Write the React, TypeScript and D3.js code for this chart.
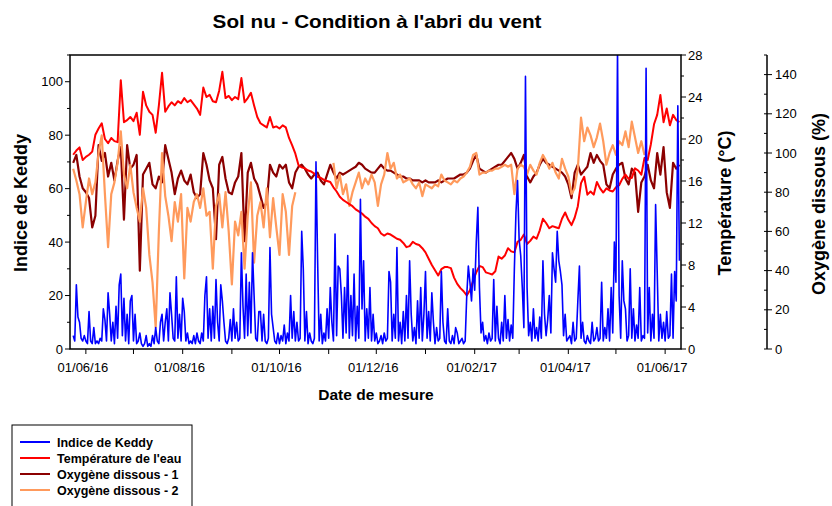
import React from "react";
import * as d3 from "d3";

// Two-day sampled series starting 24/05/2016
const twoDayStart = new Date(2016, 4, 24);
const temperature: number[] = [
  18.5, 18.9, 19.2, 18.0, 18.3, 18.5, 18.8, 20.4, 21.0, 21.5,
  20.0, 19.6, 20.1, 19.8, 19.7, 25.6, 21.6, 21.8, 22.1, 21.7,
  22.5, 20.4, 24.5, 23.2, 22.6, 22.3, 20.6, 23.2, 26.3, 22.6,
  23.1, 23.5, 23.2, 23.6, 23.4, 23.9, 23.5, 23.7, 23.3, 22.9,
  22.3, 24.9, 24.0, 24.2, 23.6, 23.5, 24.6, 26.4, 23.9, 24.1,
  23.7, 24.0, 23.8, 25.8, 23.5, 23.9, 24.4, 23.2, 22.1, 21.5,
  21.3, 21.1, 22.1, 21.1, 21.2, 21.0, 21.3, 21.1, 20.1, 19.4,
  18.6, 17.5, 17.3, 17.2, 17.0, 16.9, 16.7, 16.4, 16.3, 16.1,
  16.0, 15.9, 15.4, 15.0, 14.5, 14.2, 14.0, 13.8, 13.6, 13.3,
  13.1, 12.9, 12.6, 12.4, 12.0, 11.7, 11.5, 11.0, 10.8, 11.0,
  10.9, 10.7, 10.5, 10.4, 10.1, 9.7, 9.8, 10.2, 10.0, 9.9,
  9.6, 9.2, 8.6, 8.0, 7.5, 7.0, 7.6, 7.8, 7.8, 7.7,
  6.8, 6.2, 5.8, 5.5, 5.1, 5.6, 6.5, 7.3, 7.9, 7.8,
  7.3, 7.2, 7.1, 7.4, 8.8, 8.6, 8.9, 9.6, 9.3, 9.2,
  10.2, 10.4, 10.9, 10.0, 10.3, 10.7, 10.5, 11.3, 12.4, 12.0,
  11.5, 11.7, 11.6, 11.5, 12.4, 13.0, 12.3, 11.8, 12.5, 13.6,
  15.8, 16.4, 14.7, 15.0, 14.7, 15.9, 15.3, 14.9, 15.3, 15.1,
  15.0, 15.4, 15.6, 16.2, 16.6, 16.2, 16.3, 17.2, 17.0, 16.6,
  18.2, 18.0, 19.5, 21.4, 22.3, 24.2, 21.6, 22.9, 21.3, 22.3,
  21.8, 21.6,
];

const oxygen1: number[] = [
  95, 99, 88, 82, 80, 77, 62, 68, 104, 96,
  100, 88, 95, 86, 96, 103, 66, 104, 92, 94,
  99, 40, 89, 92, 95, 84, 82, 88, 85, 104,
  97, 90, 79, 87, 91, 86, 84, 89, 80, 77,
  79, 100, 94, 86, 82, 56, 94, 98, 87, 80,
  79, 85, 88, 100, 55, 90, 95, 87, 84, 78,
  72, 75, 94, 90, 88, 94, 92, 94, 85, 82,
  90, 93, 94, 92, 89, 87, 89, 90, 86, 84,
  89, 94, 90, 87, 90, 89, 90, 91, 92, 93,
  95, 94, 92, 91, 90, 90, 92, 94, 92, 91,
  91, 90, 89, 88, 88, 87, 87, 86, 86, 86,
  85, 86, 85, 85, 85, 86, 85, 86, 87, 87,
  87, 88, 89, 89, 90, 92, 96, 99, 92, 91,
  90, 91, 92, 93, 94, 94, 96, 98, 100, 97,
  92, 95, 99, 88, 85, 88, 90, 94, 97, 95,
  94, 93, 92, 91, 90, 88, 84, 77, 90, 94,
  89, 91, 93, 100, 95, 99, 96, 94, 84, 82,
  89, 92, 94, 95, 87, 84, 92, 90, 70, 85,
  88, 94, 86, 82, 100, 89, 103, 80, 72, 95,
  92, 94,
];

const oxygen2: (number | null)[] = [
  92, 86, 79, 62, 75, 87, 79, 85, 100, 109,
  79, 52, 79, 85, 95, 111, 89, 82, 94, 80,
  72, 65, 82, 72, 48, 34, 11, 60, 100, 78,
  68, 55, 75, 65, 79, 36, 72, 65, 75, 79,
  72, 82, 68, 70, 41, 73, 79, 62, 80, 60,
  33, 65, 58, 70, 41, 68, 85, 44, 68, 75,
  62, 82, 57, 77, 62, 48, 79, 70, 48, 73,
  80, null, null, null, null, null, null, null, null, null,
  null, null, 95, 82, 89, 79, 84, 73, 80, 85,
  90, 82, 87, 84, 89, 85, 73, 84, 89, 100,
  92, 95, 87, 89, 85, 86, 87, 84, 82, 85,
  78, 84, 83, 82, 84, 83, 89, 86, 85, 84,
  86, 85, 87, 88, 90, 93, 99, 100, 89, 90,
  90, 91, 91, 92, 92, 93, 94, 93, 94, 79,
  92, 94, 93, 89, 94, 91, 89, 95, 99, 96,
  92, 95, 90, 87, 97, 92, 88, 79, 82, 92,
  118, 106, 113, 109, 103, 108, 115, 106, 94, 100,
  104, 99, 106, 104, 111, 103, 116, 108, 100, 106,
  99, null, null, null, null, null, null, null, null, null,
  null, null,
];

// Daily series starting 24/05/2016
const dailyStart = new Date(2016, 4, 24);
const keddy: number[] = [
  5, 3, 24, 12, 10, 4, 3, 5, 3, 2,
  14, 3, 2, 8, 2, 3, 2, 4, 3, 15,
  11, 3, 21, 13, 3, 10, 2, 16, 4, 24,
  28, 5, 19, 3, 13, 2, 18, 20, 3, 13,
  2, 3, 6, 2, 1, 2, 5, 1, 2, 1,
  5, 2, 8, 3, 2, 10, 13, 3, 10, 15,
  3, 21, 13, 4, 3, 27, 4, 13, 3, 19,
  14, 3, 6, 2, 3, 2, 5, 2, 6, 3,
  2, 6, 3, 20, 27, 4, 15, 3, 16, 4,
  26, 10, 3, 24, 18, 10, 3, 2, 4, 11,
  3, 15, 4, 10, 3, 4, 36, 16, 4, 28,
  5, 25, 6, 36, 20, 4, 3, 14, 14, 3,
  13, 3, 2, 4, 38, 13, 8, 3, 2, 6,
  2, 5, 3, 9, 2, 6, 3, 20, 4, 14,
  3, 10, 3, 4, 44, 30, 3, 14, 2, 6,
  3, 2, 4, 70, 34, 3, 13, 2, 6, 3,
  15, 4, 23, 10, 3, 43, 5, 31, 30, 20,
  4, 23, 6, 35, 4, 20, 5, 28, 3, 16,
  4, 56, 15, 33, 3, 15, 4, 23, 3, 13,
  3, 6, 2, 3, 5, 2, 6, 3, 4, 29,
  25, 3, 13, 4, 38, 3, 10, 2, 14, 3,
  20, 4, 33, 13, 3, 8, 2, 18, 4, 23,
  3, 13, 29, 4, 14, 3, 21, 10, 2, 8,
  3, 4, 29, 10, 3, 2, 15, 3, 2, 5,
  2, 8, 6, 2, 3, 4, 2, 3, 20, 31,
  25, 18, 30, 22, 40, 53, 23, 6, 10, 3,
  5, 2, 6, 3, 4, 26, 3, 16, 4, 2,
  10, 3, 20, 4, 11, 3, 9, 4, 30, 51,
  63, 41, 35, 23, 8, 102, 23, 5, 10, 3,
  15, 4, 8, 3, 12, 4, 33, 13, 5, 11,
  20, 6, 36, 30, 25, 44, 33, 29, 24, 5,
  13, 3, 4, 5, 2, 10, 3, 4, 18, 31,
  4, 10, 3, 2, 5, 3, 2, 10, 3, 4,
  8, 3, 4, 25, 3, 8, 4, 15, 3, 23,
  6, 40, 25, 112, 20, 4, 33, 18, 15, 3,
  5, 30, 4, 15, 3, 9, 4, 23, 3, 5,
  4, 105, 6, 23, 3, 13, 4, 54, 29, 3,
  13, 4, 10, 3, 14, 4, 5, 28, 4, 29,
  18, 91, 33,
];

const xTickLabels = ["01/06/16", "01/08/16", "01/10/16", "01/12/16", "01/02/17", "01/04/17", "01/06/17"];
const keddyTicks = [0, 20, 40, 60, 80, 100];
const tempTicks = [0, 4, 8, 12, 16, 20, 24, 28];
const oxygenTicks = [0, 20, 40, 60, 80, 100, 120, 140];
const legendLabels = ["Indice de Keddy", "Température de l'eau", "Oxygène dissous - 1", "Oxygène dissous - 2"];
const seriesColors = ["#0000FF", "#FF0000", "#8B0000", "#FF9A5C"];

const FONT = "'Liberation Sans', Arial, Helvetica, sans-serif";

function parseLabel(s: string): Date {
  const [d, m, y] = s.split("/").map(Number);
  return new Date(2000 + y, m - 1, d);
}

export default function App() {
  const W = 832, H = 506;
  const L = 70, R = 681, T = 55, B = 349;
  const OX = 767;

  const x = d3.scaleTime().domain([new Date(2016, 4, 22), new Date(2017, 5, 11)]).range([L, R]);
  const yK = d3.scaleLinear().domain([0, 110]).range([B, T]);
  const yT = d3.scaleLinear().domain([0, 28]).range([B, T]);
  const yO = d3.scaleLinear().domain([0, 150]).range([B, T]);

  const twoDay = (i: number) => d3.timeDay.offset(twoDayStart, 2 * i);
  const daily = (i: number) => d3.timeDay.offset(dailyStart, i);

  const lineT = d3.line<number>().x((_, i) => x(twoDay(i))).y((v) => yT(v))(temperature) || "";
  const lineO1 = d3.line<number>().x((_, i) => x(twoDay(i))).y((v) => yO(v))(oxygen1) || "";
  const lineO2 = d3.line<number | null>().defined((v) => v != null).x((_, i) => x(twoDay(i))).y((v) => yO(v as number))(oxygen2) || "";
  const lineK = d3.line<number>().x((_, i) => x(daily(i))).y((v) => yK(v))(keddy) || "";

  const monthTicks = d3.timeMonth.range(new Date(2016, 5, 1), new Date(2017, 5, 2));
  const labelDates = xTickLabels.map(parseLabel);

  const keddyMinor = d3.range(10, 111, 20);
  const tempMinor = d3.range(2, 28, 4);
  const oxyMinor = d3.range(10, 151, 20);

  return (
    <svg width={W} height={H} style={{ position: "absolute", left: 0, top: 0, background: "#fff" }} fontFamily={FONT}>
      <defs>
        <clipPath id="plotClip">
          <rect x={L} y={T} width={R - L} height={B - T} />
        </clipPath>
      </defs>
      <rect x={0} y={0} width={W} height={H} fill="#fff" />

      {/* Title */}
      <text transform={`translate(377,28) scale(1.15,1)`} textAnchor="middle" fontSize={18} fontWeight="bold">
        Sol nu - Condition à l'abri du vent
      </text>

      {/* Data */}
      <g clipPath="url(#plotClip)" fill="none" strokeLinejoin="round">
        <path d={lineO1} stroke={seriesColors[2]} strokeWidth={2.2} />
        <path d={lineO2} stroke={seriesColors[3]} strokeWidth={2.2} />
        <path d={lineT} stroke={seriesColors[1]} strokeWidth={2} />
        <path d={lineK} stroke={seriesColors[0]} strokeWidth={1.6} />
      </g>

      {/* Frame */}
      <rect x={L} y={T} width={R - L} height={B - T} fill="none" stroke="#000" strokeWidth={1.5} />

      {/* Left axis */}
      <g stroke="#000" strokeWidth={1}>
        {keddyTicks.map((t) => (
          <line key={"kt" + t} x1={L - 5} x2={L} y1={yK(t)} y2={yK(t)} />
        ))}
        {keddyMinor.map((t) => (
          <line key={"km" + t} x1={L - 3} x2={L} y1={yK(t)} y2={yK(t)} />
        ))}
      </g>
      {keddyTicks.map((t) => (
        <text key={"kl" + t} x={L - 7} y={yK(t) + 4.5} textAnchor="end" fontSize={13}>
          {t}
        </text>
      ))}

      {/* Temperature axis */}
      <g stroke="#000" strokeWidth={1}>
        {tempTicks.map((t) => (
          <line key={"tt" + t} x1={R} x2={R + 5} y1={yT(t)} y2={yT(t)} />
        ))}
        {tempMinor.map((t) => (
          <line key={"tm" + t} x1={R} x2={R + 3} y1={yT(t)} y2={yT(t)} />
        ))}
      </g>
      {tempTicks.map((t) => (
        <text key={"tl" + t} x={R + 7} y={yT(t) + 4.5} fontSize={13}>
          {t}
        </text>
      ))}

      {/* Oxygen axis */}
      <line x1={OX} x2={OX} y1={T} y2={B} stroke="#000" strokeWidth={1.5} />
      <g stroke="#000" strokeWidth={1}>
        {oxygenTicks.map((t) => (
          <line key={"ot" + t} x1={OX - 3} x2={OX + 5} y1={yO(t)} y2={yO(t)} />
        ))}
        {oxyMinor.map((t) => (
          <line key={"om" + t} x1={OX - 3} x2={OX} y1={yO(t)} y2={yO(t)} />
        ))}
      </g>
      {oxygenTicks.map((t) => (
        <text key={"ol" + t} x={OX + 8} y={yO(t) + 4.5} fontSize={13}>
          {t}
        </text>
      ))}

      {/* Bottom axis */}
      <g stroke="#000" strokeWidth={1}>
        {monthTicks.map((d, i) => (
          <line key={"xt" + i} x1={x(d)} x2={x(d)} y1={B} y2={B + 5} />
        ))}
      </g>
      {labelDates.map((d, i) => (
        <text key={"xl" + i} x={x(d) - 3} y={372} textAnchor="middle" fontSize={13}>
          {xTickLabels[i]}
        </text>
      ))}

      {/* Axis titles */}
      <text x={376} y={400} textAnchor="middle" fontSize={15.5} fontWeight="bold">
        Date de mesure
      </text>
      <text transform={`translate(27,203) rotate(-90)`} textAnchor="middle" fontSize={18} fontWeight="bold">
        Indice de Keddy
      </text>
      <text transform={`translate(731,203) rotate(-90)`} textAnchor="middle" fontSize={18} fontWeight="bold">
        Température (°C)
      </text>
      <text transform={`translate(825,204) rotate(-90)`} textAnchor="middle" fontSize={18} fontWeight="bold">
        Oxygène dissous (%)
      </text>

      {/* Legend */}
      <rect x={12} y={425} width={180} height={95} fill="#fff" stroke="#000" strokeWidth={1} />
      {legendLabels.map((lab, i) => (
        <g key={"lg" + i}>
          <line x1={20} x2={50} y1={442 + i * 16} y2={442 + i * 16} stroke={seriesColors[i]} strokeWidth={2} />
          <text x={57} y={446.5 + i * 16} fontSize={12.5} fontWeight="bold">
            {lab}
          </text>
        </g>
      ))}
    </svg>
  );
}
